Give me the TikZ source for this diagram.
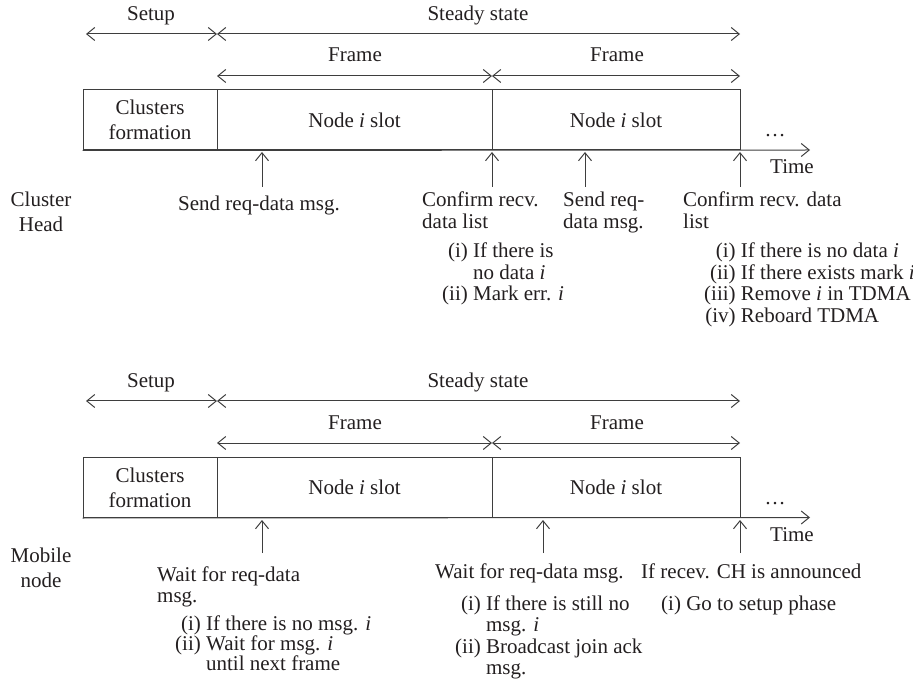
\documentclass[tikz,border=0pt]{standalone}
\usepackage{fontspec}
\setmainfont{Liberation Serif}
\usetikzlibrary{arrows.meta}
\definecolor{ink}{RGB}{35,31,32}
\definecolor{rule}{RGB}{62,62,62}
\newcommand{\blockfont}[1]{\fontsize{21}{#1}\selectfont}
\begin{document}
\begin{tikzpicture}[x=1pt,y=-1pt,
  every node/.style={text=ink, font=\blockfont{21.5}, inner sep=0pt},
  barb/.tip={Straight Barb[length=8pt,width=13pt,line width=1pt]},
  span/.style={draw=rule, line width=1pt, barb-barb},
  timeline/.style={draw=rule, line width=1pt, -barb},
  pointer/.style={draw=rule, line width=1pt, -barb},
  cell/.style={draw=rule, line width=1pt, minimum height=60pt, align=center},
  twoline/.style={font=\blockfont{25}},
  tight/.style={font=\blockfont{18}}
]
\useasboundingbox (0,0) rectangle (913,684);

% ---------------- Cluster head timeline ----------------
\node[anchor=base] (chsetuplbl) at (151,21) {Setup};
\node[anchor=base] (chsteadylbl) at (478,21) {Steady state};
\node[anchor=base] (chframeAlbl) at (355,62) {Frame};
\node[anchor=base] (chframeBlbl) at (617,62) {Frame};

\coordinate (chS0) at (86,34);
\coordinate (chS1) at (217,34);
\coordinate (chS2) at (740,34);
\coordinate (chF0) at (217,76);
\coordinate (chF1) at (492,76);
\coordinate (chF2) at (740,76);
\draw[span] (chS0) -- (chS1);
\draw[span] (chS1) -- (chS2);
\draw[span] (chF0) -- (chF1);
\draw[span] (chF1) -- (chF2);

\node[cell, twoline, minimum width=134pt] (chsetup) at (150,120) {Clusters\\formation};
\node[cell, minimum width=275pt] (chslotA) at (354.5,120) {Node \textit{i} slot};
\node[cell, minimum width=248pt] (chslotB) at (616,120) {Node \textit{i} slot};

\coordinate (chend) at (810,150);
\draw[timeline] (chsetup.south west) -- (chend);
\node[anchor=base] (chdots) at (775,137) {\dots};
\node[anchor=base] (chtime) at (792,174) {Time};

\coordinate (chA0) at (262,187); \coordinate (chA1) at (262,152);
\coordinate (chB0) at (492,187); \coordinate (chB1) at (492,152);
\coordinate (chC0) at (585,187); \coordinate (chC1) at (585,152);
\coordinate (chD0) at (740,187); \coordinate (chD1) at (740,152);
\draw[pointer] (chA0) -- (chA1);
\draw[pointer] (chB0) -- (chB1);
\draw[pointer] (chC0) -- (chC1);
\draw[pointer] (chD0) -- (chD1);

\node[anchor=base, twoline] (chrole) at (41,207)
  {\begin{tabular}[t]{@{}c@{}}Cluster\\Head\end{tabular}};
\node[anchor=base] (chsend) at (259,211) {Send req-data msg.};
\node[anchor=base west] (chconfA) at (422,207)
  {\begin{tabular}[t]{@{}l@{}}Confirm recv.\\data list\end{tabular}};
\node[anchor=base west] (chconfAlist) at (442,258)
  {\begin{tabular}[t]{@{}r@{\ }l@{}}(i)&If there is\\&no data \textit{i}\\(ii)&Mark err. \textit{i}\end{tabular}};
\node[anchor=base west] (chsendB) at (563,207)
  {\begin{tabular}[t]{@{}l@{}}Send req-\\data msg.\end{tabular}};
\node[anchor=base west] (chconfB) at (683,207)
  {\begin{tabular}[t]{@{}l@{}}Confirm recv. data\\list\end{tabular}};
\node[anchor=base west] (chconfBlist) at (704,258)
  {\begin{tabular}[t]{@{}r@{\ }l@{}}(i)&If there is no data \textit{i}\\(ii)&If there exists mark \textit{i}\\(iii)&Remove \textit{i} in TDMA\\(iv)&Reboard TDMA\end{tabular}};

% ---------------- Mobile node timeline ----------------
\node[anchor=base] (mnsetuplbl) at (151,388) {Setup};
\node[anchor=base] (mnsteadylbl) at (478,388) {Steady state};
\node[anchor=base] (mnframeAlbl) at (355,429) {Frame};
\node[anchor=base] (mnframeBlbl) at (617,429) {Frame};

\coordinate (mnS0) at (86,401);
\coordinate (mnS1) at (217,401);
\coordinate (mnS2) at (740,401);
\coordinate (mnF0) at (217,443);
\coordinate (mnF1) at (492,443);
\coordinate (mnF2) at (740,443);
\draw[span] (mnS0) -- (mnS1);
\draw[span] (mnS1) -- (mnS2);
\draw[span] (mnF0) -- (mnF1);
\draw[span] (mnF1) -- (mnF2);

\node[cell, twoline, minimum width=134pt] (mnsetup) at (150,487.5) {Clusters\\formation};
\node[cell, minimum width=275pt] (mnslotA) at (354.5,487.5) {Node \textit{i} slot};
\node[cell, minimum width=248pt] (mnslotB) at (616,487.5) {Node \textit{i} slot};

\coordinate (mnend) at (810,517.5);
\draw[timeline] (mnsetup.south west) -- (mnend);
\node[anchor=base] (mndots) at (775,504) {\dots};
\node[anchor=base] (mntime) at (792,541) {Time};

\coordinate (mnA0) at (262,553); \coordinate (mnA1) at (262,520);
\coordinate (mnB0) at (543,553); \coordinate (mnB1) at (543,520);
\coordinate (mnC0) at (740,553); \coordinate (mnC1) at (740,520);
\draw[pointer] (mnA0) -- (mnA1);
\draw[pointer] (mnB0) -- (mnB1);
\draw[pointer] (mnC0) -- (mnC1);

\node[anchor=base, twoline] (mnrole) at (41,562)
  {\begin{tabular}[t]{@{}c@{}}Mobile\\node\end{tabular}};
\node[anchor=base west] (mnwaitA) at (157,581)
  {\begin{tabular}[t]{@{}l@{}}Wait for req-data\\msg.\end{tabular}};
\node[anchor=base west, tight] (mnwaitAlist) at (175,630)
  {\begin{tabular}[t]{@{}r@{\ }l@{}}(i)&If there is no msg. \textit{i}\\(ii)&Wait for msg. \textit{i}\\&until next frame\end{tabular}};
\node[anchor=base west] (mnwaitB) at (435,578) {Wait for req-data msg.};
\node[anchor=base west] (mnwaitBlist) at (455,610)
  {\begin{tabular}[t]{@{}r@{\ }l@{}}(i)&If there is still no\\&msg. \textit{i}\\(ii)&Broadcast join ack\\&msg.\end{tabular}};
\node[anchor=base west] (mnrecv) at (641,578) {If recev. CH is announced};
\node[anchor=base west] (mnrecvlist) at (661,610)
  {\begin{tabular}[t]{@{}r@{\ }l@{}}(i)&Go to setup phase\end{tabular}};
\end{tikzpicture}
\end{document}
